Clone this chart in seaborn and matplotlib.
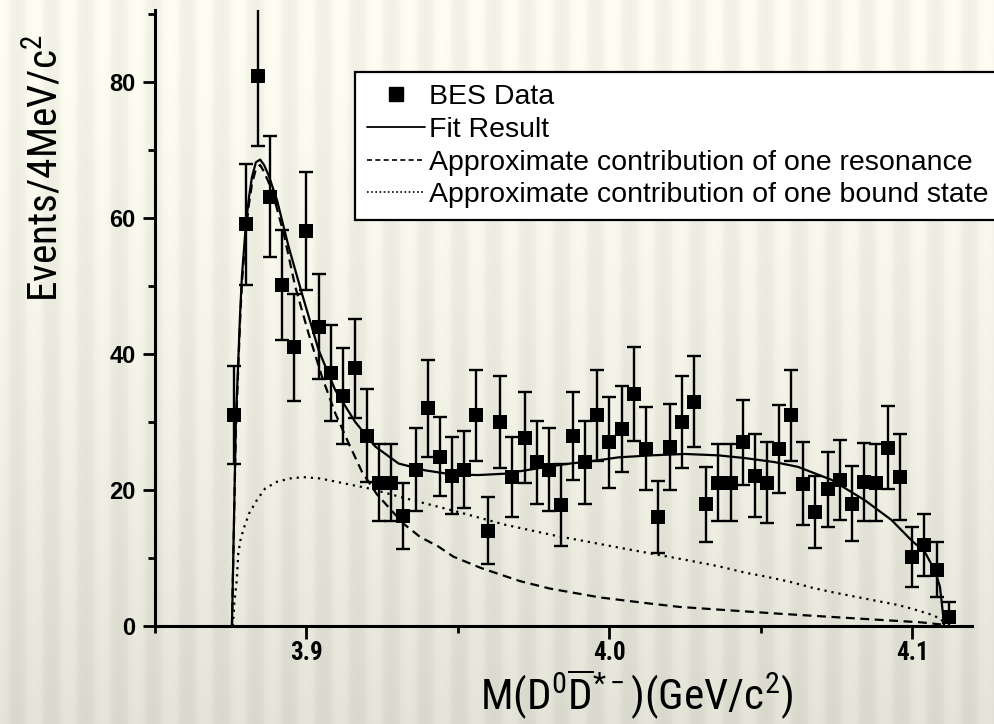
import numpy as np
import matplotlib
matplotlib.use('Agg')
import matplotlib.pyplot as plt
from matplotlib.ticker import FixedLocator
from matplotlib.lines import Line2D
from matplotlib import font_manager as fm
import seaborn as sns

# ---------------- data ----------------
mass_bins = [3.876, 3.880, 3.884, 3.888, 3.892, 3.896, 3.900, 3.904, 3.908, 3.912,
             3.916, 3.920, 3.924, 3.928, 3.932, 3.936, 3.940, 3.944, 3.948, 3.952,
             3.956, 3.960, 3.964, 3.968, 3.972, 3.976, 3.980, 3.984, 3.988, 3.992,
             3.996, 4.000, 4.004, 4.008, 4.012, 4.016, 4.020, 4.024, 4.028, 4.032,
             4.036, 4.040, 4.044, 4.048, 4.052, 4.056, 4.060, 4.064, 4.068, 4.072,
             4.076, 4.080, 4.084, 4.088, 4.092, 4.096, 4.100, 4.104, 4.108, 4.112]
events = [31.0, 59.1, 80.9, 63.1, 50.1, 41.0, 58.1, 44.0, 37.2, 33.8,
          37.9, 28.0, 21.1, 21.1, 16.2, 23.0, 32.0, 24.9, 22.1, 23.0,
          31.0, 14.0, 30.0, 21.9, 27.7, 24.1, 23.0, 17.8, 27.9, 24.1,
          31.0, 27.0, 29.0, 34.1, 26.1, 16.0, 26.3, 30.0, 33.0, 17.9,
          21.1, 21.1, 27.0, 22.1, 21.1, 26.0, 31.0, 20.9, 16.8, 20.1,
          21.5, 18.0, 21.2, 21.1, 26.2, 21.9, 10.1, 11.9, 8.3, 1.3]
errors = [7.2, 8.9, 10.3, 8.9, 8.1, 7.9, 8.7, 7.7, 7.0, 7.1,
          7.3, 6.8, 5.7, 5.7, 4.9, 6.1, 7.1, 5.8, 5.7, 5.7,
          6.7, 4.9, 6.7, 5.9, 6.7, 6.1, 6.1, 6.0, 6.5, 6.1,
          6.7, 6.7, 6.3, 6.9, 6.1, 5.3, 6.3, 6.7, 6.7, 5.5,
          5.7, 5.7, 6.3, 6.1, 5.9, 6.5, 6.7, 6.1, 5.3, 5.5,
          5.9, 5.5, 5.7, 5.7, 6.1, 6.3, 4.4, 4.5, 4.0, 2.3]

fit_x = [3.8754, 3.8767, 3.8774, 3.8781, 3.8787, 3.8794, 3.8800, 3.8810, 3.8820, 3.8833,
         3.8847, 3.8860, 3.8875, 3.8903, 3.8941, 3.8985, 3.9040, 3.9095, 3.9161, 3.9227,
         3.9304, 3.9391, 3.9479, 3.9567, 3.9655, 3.9765, 3.9853, 3.9952, 4.0029, 4.0139,
         4.0249, 4.0359, 4.0447, 4.0546, 4.0623, 4.0733, 4.0843, 4.0931, 4.0997, 4.1041,
         4.1074, 4.1091, 4.1097, 4.1102, 4.1105]
fit_y = [0.0, 30.3, 38.0, 46.0, 51.5, 55.5, 59.0, 63.0, 66.0, 68.2,
         68.6, 67.8, 66.3, 62.6, 55.8, 48.9, 40.6, 34.7, 30.0, 26.4,
         23.9, 22.9, 22.3, 22.2, 22.4, 23.2, 23.8, 24.3, 24.8, 25.1,
         25.3, 25.1, 24.7, 24.1, 23.4, 21.5, 18.5, 15.6, 12.6, 10.9,
         8.2, 5.8, 3.5, 1.4, 0.0]

res_x = [3.8754, 3.8767, 3.8774, 3.8781, 3.8787, 3.8794, 3.8800, 3.8810, 3.8820, 3.8833,
         3.8847, 3.8860, 3.8886, 3.8925, 3.8963, 3.9007, 3.9051, 3.9095, 3.9139, 3.9183,
         3.9232, 3.9319, 3.9375, 3.9435, 3.9485, 3.9578, 3.9705, 3.9804, 3.9969, 4.0134,
         4.0233, 4.0398, 4.0563, 4.0728, 4.0893, 4.1025, 4.1101]
res_y = [0.0, 29.0, 37.0, 45.0, 50.5, 54.5, 58.0, 62.0, 65.0, 67.2,
         67.8, 66.8, 64.1, 57.7, 49.9, 43.0, 36.7, 31.3, 26.9, 22.7,
         19.4, 15.1, 13.1, 11.7, 10.2, 8.5, 6.6, 5.5, 4.2, 3.3,
         2.8, 2.3, 1.8, 1.35, 0.9, 0.55, 0.2]

bound_x = [3.8757, 3.8762, 3.8770, 3.8775, 3.8782, 3.8791, 3.8810, 3.8836, 3.8863, 3.8902,
           3.8946, 3.8989, 3.9045, 3.9100, 3.9210, 3.9325, 3.9490, 3.9655, 3.9820, 3.9952,
           4.0035, 4.0145, 4.0255, 4.0359, 4.0453, 4.0513, 4.0596, 4.0672, 4.0733, 4.0893,
           4.0952, 4.1002, 4.1061, 4.1096, 4.1107]
bound_y = [0.0, 3.5, 6.8, 10.7, 12.6, 14.1, 16.5, 18.5, 20.2, 21.2,
           21.7, 21.9, 21.7, 21.2, 20.2, 18.8, 16.9, 14.9, 13.3, 12.2,
           11.5, 10.6, 9.7, 8.8, 7.8, 7.3, 6.5, 5.6, 5.0, 3.6,
           3.1, 2.5, 1.7, 1.0, 0.0]

legend_labels = ['BES Data', 'Fit Result',
                 'Approximate contribution of one resonance',
                 'Approximate contribution of one bound state']
x_ticks = [3.9, 4.0, 4.1]
x_tick_labels = ['3.9', '4.0', '4.1']
x_minor = [3.85, 3.95, 4.05]
y_ticks = [0, 20, 40, 60, 80]
y_tick_labels = ['0', '20', '40', '60', '80']
y_minor = [10, 30, 50, 70, 90]
y_label = 'Events/4MeV/c$^{2}$'
x_label = r'M(D$^{0}\overline{\mathrm{D}}^{*-}$)(GeV/c$^{2}$)'


# ---------------- fonts: look for a narrow sans if one is installed ----------------
def find_narrow():
    names = {f.name for f in fm.fontManager.ttflist}
    for cand in ['Liberation Sans Narrow', 'Arial Narrow', 'Roboto Condensed',
                 'Open Sans Condensed', 'DejaVu Sans Condensed', 'Noto Sans Condensed']:
        if cand in names:
            return cand, 'normal'
    for fam in ['Liberation Sans', 'Roboto', 'Noto Sans', 'Open Sans', 'DejaVu Sans', 'Inter', 'Lato']:
        for f in fm.fontManager.ttflist:
            st = f.stretch
            cond = (isinstance(st, str) and 'condensed' in st) or (isinstance(st, (int, float)) and st < 500)
            if f.name == fam and cond and f.style == 'normal':
                return fam, st
    return None, 'normal'


narrow_fam, narrow_stretch = find_narrow()
BASE = ['Liberation Sans', 'DejaVu Sans']
if narrow_fam is not None:
    NARROW = [narrow_fam, 'Liberation Sans', 'DejaVu Sans']
else:
    NARROW = BASE
    narrow_fam = 'Liberation Sans'

sns.set_style('ticks')
plt.rcParams['font.family'] = BASE
plt.rcParams['mathtext.fontset'] = 'custom'
stretch_spec = '' if narrow_stretch == 'normal' else ':stretch=%s' % narrow_stretch
plt.rcParams['mathtext.rm'] = narrow_fam + stretch_spec
plt.rcParams['mathtext.it'] = narrow_fam + stretch_spec
plt.rcParams['mathtext.bf'] = narrow_fam + ':bold' + stretch_spec
plt.rcParams['text.color'] = 'black'
plt.rcParams['axes.labelcolor'] = 'black'

W, H = 994, 724
fig = plt.figure(figsize=(W / 100, H / 100), dpi=100)

# decorative striped background
bg = fig.add_axes([0, 0, 1, 1], zorder=-10)
yy = np.linspace(0, 1, H)[:, None]
xx = np.arange(W)[None, :]
base = 0.972 - 0.10 * yy ** 1.4
stripe = np.cos(2 * np.pi * xx / 34.0)
stripe = np.sign(stripe) * np.abs(stripe) ** 0.6
v = base + 0.024 * stripe
rgb = np.clip(np.dstack([v, v, v - 0.045]), 0, 1)
bg.imshow(rgb, aspect='auto', extent=[0, 1, 0, 1], origin='upper')
bg.axis('off')

AX_H = 616
ax = fig.add_axes([155 / W, 98 / H, 817 / W, AX_H / H])
ax.set_facecolor('none')

# curves
sns.lineplot(x=bound_x, y=bound_y, ax=ax, color='black', lw=1.6,
             linestyle=(0, (1, 2.2)), estimator=None, sort=False, legend=False)
sns.lineplot(x=res_x, y=res_y, ax=ax, color='black', lw=1.6,
             linestyle=(0, (4, 2.5)), estimator=None, sort=False, legend=False)
sns.lineplot(x=fit_x, y=fit_y, ax=ax, color='black', lw=1.6,
             estimator=None, sort=False, legend=False)

# data with error bars
ax.errorbar(mass_bins, events, yerr=errors, fmt='none', ecolor='black',
            elinewidth=1.7, capsize=4.8, capthick=1.7, zorder=3)
sns.scatterplot(x=mass_bins, y=events, ax=ax, marker='s', s=95, color='black',
                edgecolor='black', linewidth=0, zorder=4, legend=False)

ax.set_xlim(3.85, 4.1197)
ax.set_ylim(0, 90.6)

ax.xaxis.set_major_locator(FixedLocator(x_ticks))
ax.xaxis.set_minor_locator(FixedLocator(x_minor))
ax.set_xticklabels(x_tick_labels)
ax.yaxis.set_major_locator(FixedLocator(y_ticks))
ax.yaxis.set_minor_locator(FixedLocator(y_minor))
ax.set_yticklabels(y_tick_labels)

for s in ['top', 'right']:
    ax.spines[s].set_visible(False)
for s in ['left', 'bottom']:
    ax.spines[s].set_linewidth(2.2)
    ax.spines[s].set_color('black')

ax.tick_params(which='major', direction='out', length=9, width=2.0, colors='black', pad=5)
ax.tick_params(which='minor', direction='out', length=5, width=2.0, colors='black')
ax.tick_params(axis='x', which='major', pad=2)
for t in ax.get_yticklabels():
    t.set_fontsize(17)
    t.set_fontweight('bold')
    t.set_family(BASE)
for t in ax.get_xticklabels():
    t.set_fontsize(17 if NARROW is BASE else 18)
    t.set_fontweight('bold')
    t.set_family(NARROW)
    t.set_fontstretch(narrow_stretch)

ylab = ax.set_ylabel(y_label, fontsize=30, family=NARROW, va='baseline')
ylab.set_fontstretch(narrow_stretch)
ax.yaxis.set_label_coords((58 - 155) / 817, (626 - 168) / 616)
xlab = ax.set_xlabel(x_label, fontsize=32, family=NARROW, va='baseline')
xlab.set_fontstretch(narrow_stretch)
label_x = (636 - 155) / 817
label_y = (626 - 710) / 616
ax.xaxis.set_label_coords(label_x, label_y)

# scale the axis titles so their lengths match the reference
for _ in range(2):
    fig.canvas.draw()
    r = fig.canvas.get_renderer()
    bb = ylab.get_window_extent(r)
    ylab.set_fontsize(ylab.get_fontsize() * 268.0 / bb.height)
    bb = xlab.get_window_extent(r)
    xlab.set_fontsize(xlab.get_fontsize() * 350.0 / bb.width)

# keep the x title between the tick labels and the bottom edge
for _ in range(4):
    fig.canvas.draw()
    r = fig.canvas.get_renderer()
    tick_bottom = min(t.get_window_extent(r).y0 for t in ax.get_xticklabels())
    bb = xlab.get_window_extent(r)
    avail = tick_bottom - 1.5 - 1.5
    if bb.height > avail:
        xlab.set_fontsize(xlab.get_fontsize() * avail / bb.height)
        continue
    shift = 1.5 - bb.y0
    label_y += shift / AX_H
    ax.xaxis.set_label_coords(label_x, label_y)

handles = [Line2D([], [], marker='s', ls='none', color='black', markersize=9.5),
           Line2D([], [], color='black', lw=1.3),
           Line2D([], [], color='black', lw=1.2, ls=(0, (3, 2))),
           Line2D([], [], color='black', lw=1.2, ls=(0, (1, 1.5)))]
leg = ax.legend(handles, legend_labels, loc='upper left',
                bbox_to_anchor=(355 / W, 1 - 72 / H), bbox_transform=fig.transFigure,
                frameon=True, fancybox=False, edgecolor='black', framealpha=1,
                facecolor='white', fontsize=20.5, handlelength=2.05, handletextpad=0.12,
                borderpad=0.42, labelspacing=0.24, borderaxespad=0)
leg.get_frame().set_linewidth(1.6)
for t in leg.get_texts():
    t.set_color('black')

fig.savefig('out.png', dpi=100)
